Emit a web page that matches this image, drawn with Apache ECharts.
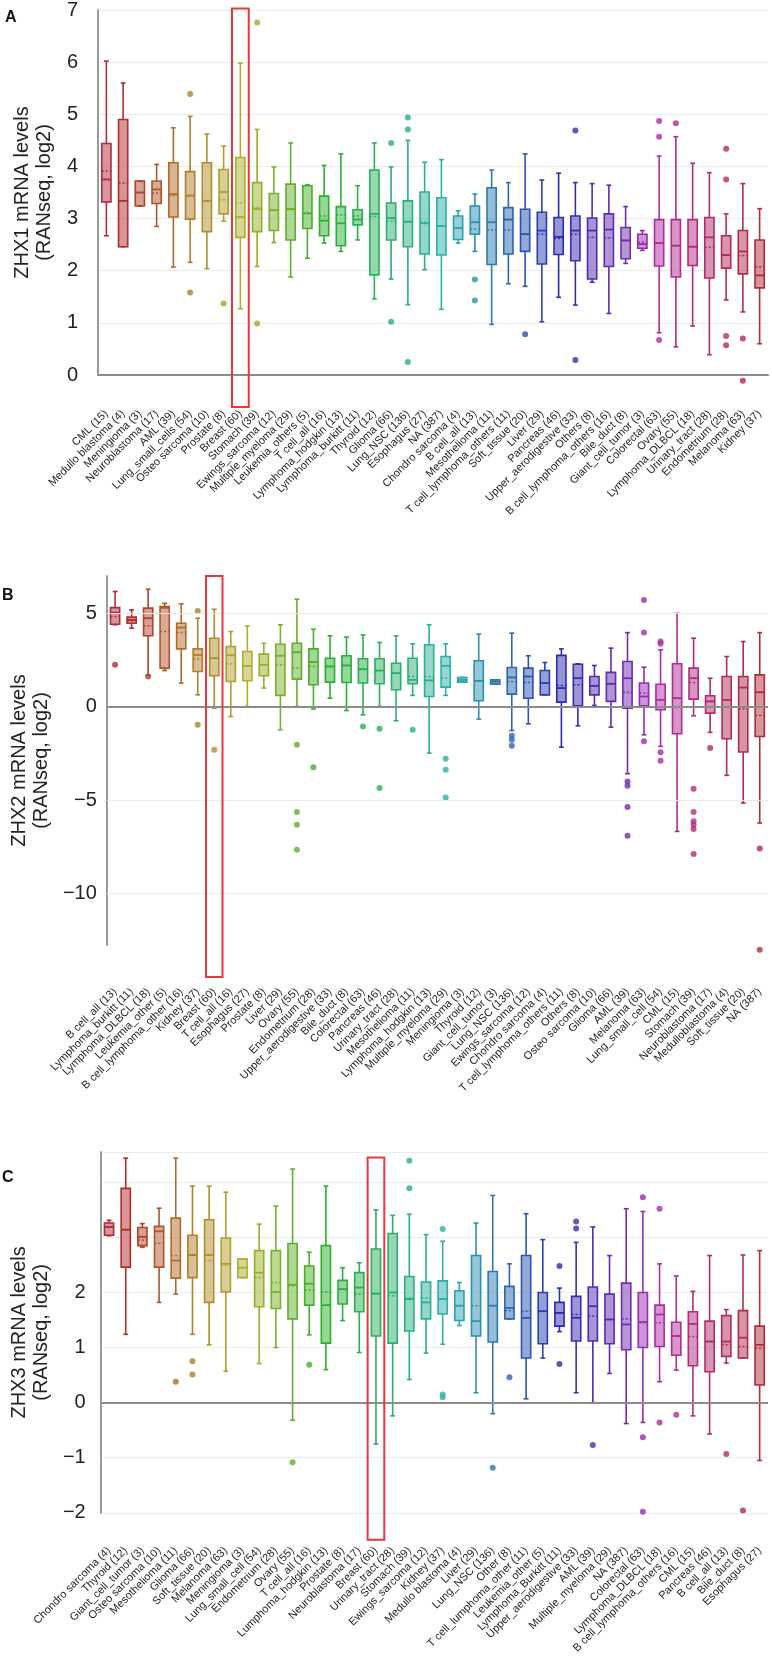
<!DOCTYPE html>
<html lang="en">
<head>
<meta charset="utf-8">
<title>ZHX1 / ZHX2 / ZHX3 mRNA levels</title>
<script src="https://cdn.jsdelivr.net/npm/echarts@6/dist/echarts.min.js"></script>
<style>
  html, body { margin: 0; padding: 0; background: #fff; }
  #main { width: 772px; height: 1656px; }
</style>
</head>
<body>
<div id="main"></div>
<script>
// ---- panel A : ZHX1 ----
var catsA = ['CML (15)', 'Medullo blastoma (4)', 'Meningioma (3)', 'Neuroblastoma (17)', 'AML (39)',
  'Lung_small_cells (54)', 'Osteo sarcoma (10)', 'Prostate (8)', 'Breast (60)', 'Stomach (39)',
  'Ewings_sarcoma (12)', 'Multiple_myeloma (29)', 'Leukemia_others (5)', 'T cell_all (16)',
  'Lymphoma_hodgkin (13)', 'Lymphoma_burkitt (11)', 'Thyroid (12)', 'Glioma (66)', 'Lung_NSC (136)',
  'Esophagus (27)', 'NA (387)', 'Chondro sarcoma (4)', 'B cell_all (13)', 'Mesothelioma (11)',
  'T cell_lymphoma_others (11)', 'Soft_tissue (20)', 'Liver (29)', 'Pancreas (46)',
  'Upper_aerodigestive (33)', 'Others (8)', 'B cell_lymphoma_others (16)', 'Bile_duct (8)',
  'Giant_cell_tumor (3)', 'Colorectal (63)', 'Ovary (55)', 'Lymphoma_DLBCL (18)', 'Urinary_tract (28)',
  'Endometrium (28)', 'Melanoma (63)', 'Kidney (37)'];
// [min, q1, median, q3, max, mean]
var statsA = [
  [2.67, 3.32, 3.75, 4.44, 6.02, 3.91], [2.46, 2.46, 3.34, 4.90, 5.60, 3.68], [3.24, 3.24, 3.50, 3.72, 3.72, 3.50],
  [2.85, 3.29, 3.56, 3.72, 4.04, 3.49], [2.07, 3.03, 3.47, 4.07, 4.74, 3.44], [2.16, 2.99, 3.44, 3.90, 4.96, 3.44],
  [2.04, 2.75, 3.34, 4.07, 4.62, 3.34], [2.95, 3.09, 3.51, 3.94, 4.39, 3.36], [1.27, 2.64, 3.03, 4.17, 5.98, 3.30],
  [2.08, 2.75, 3.18, 3.69, 4.71, 3.21], [2.54, 2.77, 3.16, 3.48, 3.99, 3.16], [1.88, 2.59, 3.18, 3.66, 4.45, 3.18],
  [2.24, 2.81, 3.10, 3.63, 3.65, 3.10], [2.53, 2.67, 2.96, 3.43, 4.02, 3.05], [2.37, 2.48, 2.91, 3.23, 4.24, 3.07],
  [2.59, 2.88, 2.98, 3.17, 3.63, 3.05], [1.46, 1.92, 3.09, 3.93, 4.45, 3.04], [1.84, 2.59, 3.01, 3.30, 3.99, 2.95],
  [1.35, 2.46, 2.94, 3.34, 4.50, 2.94], [2.02, 2.32, 2.91, 3.51, 4.08, 2.93], [1.26, 2.30, 2.86, 3.40, 4.13, 2.86],
  [2.53, 2.60, 2.82, 3.05, 3.15, 2.82], [2.37, 2.70, 2.93, 3.24, 3.47, 2.80], [0.97, 2.12, 2.93, 3.59, 3.93, 2.78],
  [1.75, 2.32, 2.98, 3.21, 3.69, 2.78], [1.70, 2.37, 2.70, 3.18, 4.24, 2.70], [1.02, 2.13, 2.77, 3.12, 3.74, 2.70],
  [1.49, 2.31, 2.65, 3.02, 3.87, 2.62], [1.34, 2.19, 2.77, 3.05, 3.69, 2.70], [1.78, 1.84, 2.77, 3.01, 3.67, 2.64],
  [1.18, 2.08, 2.79, 3.09, 3.64, 2.63], [2.14, 2.23, 2.58, 2.83, 3.23, 2.58], [2.39, 2.43, 2.51, 2.70, 2.77, 2.55],
  [0.81, 2.09, 2.53, 2.98, 4.20, 2.53], [0.54, 1.88, 2.48, 2.98, 4.57, 2.48], [0.94, 2.10, 2.46, 2.98, 4.06, 2.46],
  [0.39, 1.86, 2.64, 3.02, 3.88, 2.45], [1.44, 2.05, 2.30, 2.67, 3.09, 2.30], [1.21, 1.94, 2.37, 2.77, 3.67, 2.29],
  [0.60, 1.67, 1.91, 2.59, 3.19, 2.07]
];
// [category index, value]
var outA = [[5, 5.39], [5, 1.58], [7, 1.37], [9, 6.76], [9, 0.99], [17, 4.45], [17, 1.02], [18, 4.94], [18, 4.71],
  [18, 0.25], [22, 1.83], [22, 1.43], [25, 0.78], [28, 4.69], [28, 0.29], [33, 4.87], [33, 4.57], [33, 0.67],
  [34, 4.83], [37, 4.34], [37, 3.75], [37, 0.75], [37, 0.57], [38, 0.70], [38, -0.11]];

// ---- panel B : ZHX2 ----
var catsB = ['B cell_all (13)', 'Lymphoma_burkitt (11)', 'Lymphoma_DLBCL (18)', 'Leukemia_other (5)',
  'B cell_lymphoma_other (16)', 'Kidney (37)', 'Breast (60)', 'T cell_all (16)', 'Esophagus (27)', 'Prostate (8)',
  'Liver (29)', 'Ovary (55)', 'Endometrium (28)', 'Upper_aerodigestive (33)', 'Bile_duct (8)', 'Colorectal (63)',
  'Pancreas (46)', 'Urinary_tract (28)', 'Mesothelioma (11)', 'Lymphoma_hodgkin (13)', 'Multiple_myeloma (29)',
  'Meningioma (3)', 'Thyroid (12)', 'Giant_cell_tumor (3)', 'Lung_NSC (136)', 'Ewings_sarcoma (12)',
  'Chondro sarcoma (4)', 'T cell_lymphoma_others (11)', 'Others (8)', 'Osteo sarcoma (10)', 'Glioma (66)',
  'AML (39)', 'Melanoma (63)', 'Lung_small_cell (54)', 'CML (15)', 'Stomach (39)', 'Neuroblastoma (17)',
  'Medulloblastoma (4)', 'Soft_tissue (20)', 'NA (387)'];
var statsB = [
  [4.39, 4.42, 5.04, 5.31, 6.17, 4.83], [4.21, 4.47, 4.65, 4.80, 5.19, 4.60], [1.70, 3.80, 4.74, 5.28, 6.29, 4.33],
  [1.94, 2.07, 5.30, 5.37, 5.54, 4.03], [1.27, 3.10, 4.24, 4.47, 5.51, 3.98], [0.64, 1.89, 2.78, 3.10, 4.74, 2.55],
  [-0.07, 1.66, 2.60, 3.67, 5.22, 2.60], [-0.52, 1.35, 2.76, 3.23, 4.03, 2.30], [0.02, 1.39, 2.19, 2.96, 4.33, 2.19],
  [1.00, 1.66, 2.25, 2.82, 3.40, 2.25], [-1.23, 0.61, 2.73, 3.35, 4.39, 2.25], [0.02, 1.48, 2.92, 3.40, 5.76, 2.07],
  [-0.12, 1.18, 2.39, 3.10, 4.15, 2.16], [0.46, 1.32, 2.16, 2.60, 3.80, 2.16], [-0.20, 1.30, 2.21, 2.73, 3.73, 2.21],
  [-0.43, 1.27, 2.01, 2.57, 3.85, 2.01], [0.02, 1.23, 1.94, 2.57, 3.44, 1.94], [-0.75, 0.91, 1.80, 2.33, 3.80, 1.80],
  [0.61, 1.23, 1.44, 2.60, 3.37, 1.62], [-2.48, 0.55, 1.41, 3.32, 4.39, 1.62], [0.61, 1.05, 2.19, 2.69, 3.37, 1.53],
  [1.32, 1.32, 1.44, 1.57, 1.57, 1.44], [-0.66, 0.32, 1.39, 2.46, 3.89, 1.39], [1.21, 1.21, 1.34, 1.44, 1.44, 1.34],
  [-1.27, 0.68, 1.57, 2.10, 3.94, 1.35], [-0.91, 0.46, 1.62, 2.07, 2.73, 1.30], [0.64, 0.64, 1.27, 1.94, 2.37, 1.27],
  [-2.16, 0.25, 1.00, 2.75, 3.10, 1.14], [-1.02, 0.05, 1.53, 2.28, 2.30, 1.18], [0.07, 0.64, 1.12, 1.62, 2.21, 1.12],
  [-1.09, 0.29, 1.23, 1.84, 3.14, 1.23], [-3.58, -0.07, 1.53, 2.42, 3.97, 0.77], [-1.50, 0.05, 0.55, 1.27, 2.12, 0.73],
  [-2.12, -0.16, 0.37, 1.21, 3.05, 0.37], [-6.67, -1.44, 0.46, 2.30, 5.00, 0.46], [-0.48, 0.41, 1.53, 2.07, 3.67, 1.30],
  [-1.37, -0.34, 0.29, 0.59, 1.53, 0.29], [-3.67, -1.71, 0.37, 1.62, 2.69, -0.02], [-5.15, -2.42, 1.03, 1.62, 3.49, -0.11],
  [-6.22, -1.59, 0.78, 1.71, 3.97, -0.46]
];
var outB = [[0, 2.25], [2, 1.62], [5, 5.13], [5, -0.96], [6, -2.30], [11, -2.03], [11, -5.63], [11, -6.31], [11, -7.65],
  [12, -3.23], [15, -1.05], [16, -1.18], [16, -4.35], [18, -1.23], [20, -2.78], [20, -3.37], [20, -4.85], [24, -1.55],
  [24, -1.76], [24, -2.09], [31, -4.00], [31, -4.22], [31, -5.37], [31, -6.90], [32, 5.72], [32, 3.97], [32, -1.85],
  [33, 3.49], [33, 3.37], [33, -2.44], [33, -2.89], [35, -4.39], [35, -5.63], [35, -6.13], [35, -6.31], [35, -6.54],
  [35, -7.88], [36, -2.21], [39, -7.59], [39, -13.0]];
var gridTicksB = [5, -5, -10];

// ---- panel C : ZHX3 ----
var catsC = ['Chondro sarcoma (4)', 'Thyroid (12)', 'Giant_cell_tumor (3)', 'Osteo sarcoma (10)', 'Mesothelioma (11)',
  'Glioma (66)', 'Soft_tissue (20)', 'Melanoma (63)', 'Meningioma (3)', 'Lung_small_cell (54)', 'Endometrium (28)',
  'Ovary (55)', 'T cell_all (16)', 'Lumphoma_hodgkin (13)', 'Prostate (8)', 'Neuroblastoma (17)', 'Breast (60)',
  'Urinary_tract (28)', 'Stomach (39)', 'Ewings_sarcoma (12)', 'Kidney (37)', 'Medullo blastoma (4)', 'Liver (29)',
  'Lung_NSC (136)', 'Other (8)', 'T cell_lumphoma_other (11)', 'Leukemia_other (5)', 'Lymphoma_Burkitt (11)',
  'Upper_aerodigestive (33)', 'AML (39)', 'Multiple_myeloma (29)', 'NA (387)', 'Colorectal (63)',
  'Lymphoma_DLBCL (18)', 'B cell_lymphoma_others (16)', 'CML (15)', 'Pancreas (46)', 'B cell_all (13)',
  'Bile_duct (8)', 'Esophagus (27)'];
var statsC = [
  [3.03, 3.04, 3.19, 3.26, 3.31, 3.19], [1.24, 2.46, 3.14, 3.89, 4.44, 3.14], [2.82, 2.85, 3.01, 3.18, 3.25, 2.95],
  [1.82, 2.46, 3.11, 3.20, 3.53, 2.89], [1.97, 2.26, 2.58, 3.35, 4.44, 2.67], [1.24, 2.27, 2.68, 3.04, 3.93, 2.68],
  [1.05, 1.82, 2.68, 3.32, 3.93, 2.58], [0.57, 2.01, 2.52, 2.99, 3.82, 2.50], [2.27, 2.27, 2.45, 2.61, 2.61, 2.45],
  [0.71, 1.74, 2.36, 2.76, 3.24, 2.27], [1.00, 1.71, 2.01, 2.76, 3.57, 2.18], [-0.32, 1.52, 2.14, 2.89, 4.24, 2.12],
  [1.23, 1.77, 2.16, 2.48, 2.73, 2.04], [0.60, 1.08, 1.77, 2.85, 3.93, 2.01], [1.49, 1.79, 2.06, 2.22, 2.45, 2.06],
  [0.91, 1.65, 2.09, 2.36, 2.54, 1.97], [-0.75, 1.21, 1.98, 2.79, 3.50, 1.98], [-0.24, 1.08, 2.00, 3.07, 3.40, 1.94],
  [0.42, 1.30, 1.88, 2.29, 3.42, 1.90], [0.90, 1.52, 1.82, 2.19, 3.05, 1.90], [1.06, 1.61, 1.88, 2.21, 2.93, 1.88],
  [1.40, 1.49, 1.76, 2.03, 2.18, 1.76], [0.18, 1.21, 1.48, 2.67, 3.26, 1.76], [-0.20, 1.10, 1.76, 2.38, 3.76, 1.76],
  [1.52, 1.52, 1.72, 2.11, 2.52, 1.67], [0.07, 0.81, 1.54, 2.67, 3.43, 1.66], [0.81, 1.07, 1.66, 2.00, 2.96, 1.66],
  [1.29, 1.39, 1.63, 1.82, 2.08, 1.63], [0.18, 1.12, 1.54, 1.93, 2.91, 1.60], [0.00, 1.12, 1.75, 2.10, 3.19, 1.57],
  [0.53, 1.07, 1.51, 1.97, 2.67, 1.51], [-0.38, 0.96, 1.42, 2.17, 3.52, 1.52], [-0.36, 1.00, 1.46, 2.00, 3.47, 1.46],
  [0.38, 1.02, 1.60, 1.77, 2.52, 1.45], [0.59, 0.86, 1.21, 1.46, 2.30, 1.21], [-0.24, 0.67, 1.43, 1.65, 2.02, 1.20],
  [-0.57, 0.56, 1.11, 1.48, 2.67, 1.11], [0.72, 0.84, 1.11, 1.58, 1.69, 1.05], [0.81, 0.81, 1.18, 1.67, 2.68, 1.02],
  [-1.05, 0.32, 1.05, 1.39, 2.76, 0.99]
];
var outC = [[4, 0.38], [5, 0.75], [5, 0.51], [11, -1.08], [12, 0.69], [18, 4.39], [18, 3.89], [20, 3.15], [20, 0.15],
  [20, 0.10], [23, -1.18], [24, 0.46], [27, 2.48], [27, 0.70], [28, 3.29], [28, 3.16], [29, -0.77], [32, 3.73],
  [32, -0.63], [32, -1.98], [33, 3.52], [33, -0.36], [34, -0.22], [37, -0.93], [38, -1.96]];

var highlightName = 'Breast (60)';
var FONT = '"Liberation Sans", Arial, sans-serif';

// rainbow colour by rank, red -> yellow -> green -> blue -> purple -> red
var hueStops = [[0, -8], [5, 38], [8, 60], [13, 120], [18, 158], [20, 176], [24, 213], [27, 240],
  [31, 272], [33, 306], [36, 330], [39, 354]];
function hueAt(i) {
  for (var k = 1; k < hueStops.length; k++) {
    var a = hueStops[k - 1], b = hueStops[k];
    if (i <= b[0]) return (a[1] + (b[1] - a[1]) * (i - a[0]) / (b[0] - a[0]) + 360) % 360;
  }
  return hueStops[hueStops.length - 1][1];
}
function hsla(h, s, l, a) {
  s /= 100; l /= 100;
  var q = s * Math.min(l, 1 - l);
  var f = function (n) {
    var k = (n + h / 30) % 12;
    return Math.round((l - q * Math.max(-1, Math.min(k - 3, 9 - k, 1))) * 255);
  };
  return 'rgba(' + f(0) + ',' + f(8) + ',' + f(4) + ',' + a + ')';
}
function boxColor(i, a) {
  return hsla(hueAt(i), 60, 43, a == null ? 1 : a);
}

function drawBox(params, api) {
  var i = api.value(0);
  var x = api.coord([i, 0])[0];
  var y = function (d) { return api.coord([i, api.value(d)])[1]; };
  var yMin = y(1), yQ1 = y(2), yMed = y(3), yQ3 = y(4), yMax = y(5), yMean = y(6);
  var c = boxColor(i), hw = 4.6, cw = 2.4;
  var ln = { stroke: c, lineWidth: 1.6 };
  return {
    type: 'group',
    children: [
      { type: 'line', shape: { x1: x, y1: yMax, x2: x, y2: yQ3 }, style: ln },
      { type: 'line', shape: { x1: x, y1: yQ1, x2: x, y2: yMin }, style: ln },
      { type: 'line', shape: { x1: x - cw, y1: yMax, x2: x + cw, y2: yMax }, style: ln },
      { type: 'line', shape: { x1: x - cw, y1: yMin, x2: x + cw, y2: yMin }, style: ln },
      { type: 'rect', shape: { x: x - hw, y: yQ3, width: hw * 2, height: Math.max(yQ1 - yQ3, 1) },
        style: { fill: boxColor(i, 0.5), stroke: c, lineWidth: 1.6 } },
      { type: 'line', shape: { x1: x - hw, y1: yMed, x2: x + hw, y2: yMed }, style: { stroke: c, lineWidth: 1.8 } },
      { type: 'line', shape: { x1: x - hw, y1: yMean, x2: x + hw, y2: yMean },
        style: { stroke: c, lineWidth: 1.5, lineDash: [2, 2] } }
    ]
  };
}

function boxSeries(g, stats, marks) {
  return {
    type: 'custom',
    xAxisIndex: g, yAxisIndex: g,
    renderItem: drawBox,
    encode: { x: 0, y: [1, 2, 3, 4, 5, 6] },
    data: stats.map(function (s, i) { return [i].concat(s); }),
    markLine: marks ? {
      silent: true, symbol: 'none', label: { show: false }, animation: false,
      data: marks
    } : undefined
  };
}
function outlierSeries(g, pts) {
  return {
    type: 'scatter',
    xAxisIndex: g, yAxisIndex: g,
    clip: false,
    symbolSize: 6,
    data: pts,
    itemStyle: { color: function (p) { return boxColor(p.value[0]); } }
  };
}

function xAxisFor(g, cats, margin, showLine) {
  return {
    gridIndex: g, type: 'category', data: cats, boundaryGap: true,
    axisLine: { show: showLine, lineStyle: { color: '#8c8c8c', width: 2 } },
    axisTick: { show: false },
    axisLabel: { interval: 0, rotate: 45, fontSize: 11, color: '#222', margin: margin, fontFamily: FONT }
  };
}
function yAxisFor(g, name, opts) {
  var ax = {
    gridIndex: g, type: 'value',
    axisLine: { show: true, lineStyle: { color: '#9a9a9a', width: 2 } },
    axisTick: { show: false },
    splitLine: { show: true, lineStyle: { color: '#ececec', width: 1 } },
    axisLabel: { fontSize: 20, color: '#222', fontFamily: FONT },
    name: name, nameLocation: 'middle', nameGap: 42, nameRotate: 90,
    nameTextStyle: { fontSize: 20, lineHeight: 22, color: '#222', fontFamily: FONT }
  };
  for (var k in opts) {
    if (k === 'axisLabel') Object.assign(ax.axisLabel, opts[k]);
    else ax[k] = opts[k];
  }
  return ax;
}
function minus(v) { return String(v).replace('-', '\u2212'); }

var zeroLine = { yAxis: 0, lineStyle: { color: '#8c8c8c', width: 2, type: 'solid' } };

var option = {
  animation: false,
  textStyle: { fontFamily: FONT },
  grid: [
    { left: 98, right: 4, top: 8, height: 367 },
    { left: 99, right: 4, top: 576, height: 369 },
    { left: 99, right: 4, top: 1152, height: 365 }
  ],
  xAxis: [
    xAxisFor(0, catsA, 37, true),
    xAxisFor(1, catsB, 45, false),
    xAxisFor(2, catsC, 36, false)
  ],
  yAxis: [
    yAxisFor(0, 'ZHX1 mRNA levels\n(RANseq, log2)', { min: 0, max: 7, interval: 1, axisLabel: { margin: 20 } }),
    yAxisFor(1, 'ZHX2 mRNA levels\n(RANseq, log2)', {
      min: -12.75, max: 7, interval: 0.25, splitLine: { show: false },
      axisLabel: { margin: 10, formatter: function (v) { return v % 5 === 0 ? minus(v) : ''; } }
    }),
    yAxisFor(2, 'ZHX3 mRNA levels\n(RANseq, log2)', {
      min: -2, max: 4.55, interval: 1,
      axisLabel: { margin: 15, formatter: function (v) { return v <= 2 ? minus(v) : ''; } }
    })
  ],
  series: [
    boxSeries(0, statsA, null),
    outlierSeries(0, outA),
    boxSeries(1, statsB, gridTicksB.map(function (t) {
      return { yAxis: t, lineStyle: { color: '#ececec', width: 1, type: 'solid' } };
    }).concat([zeroLine])),
    outlierSeries(1, outB),
    boxSeries(2, statsC, [zeroLine]),
    outlierSeries(2, outC)
  ]
};

var chart = echarts.init(document.getElementById('main'), null, { renderer: 'canvas' });
chart.setOption(option);

// red frame round the Breast column, reaching down into the labels
function columnFrame(g, cats, topVal, below) {
  var idx = cats.indexOf(highlightName);
  var a = chart.convertToPixel({ gridIndex: g }, [0, 0]);
  var b = chart.convertToPixel({ gridIndex: g }, [1, 0]);
  var band = b[0] - a[0];
  var top = chart.convertToPixel({ gridIndex: g }, [idx, topVal]);
  var bottom = chart.convertToPixel({ gridIndex: g }, [idx, option.yAxis[g].min]);
  return {
    type: 'rect', z: 100,
    shape: { x: top[0] - band / 2, y: top[1], width: band, height: bottom[1] + below - top[1] },
    style: { fill: 'none', stroke: '#e8383d', lineWidth: 2 }
  };
}
function panelLetter(t, x, y) {
  return { type: 'text', left: x, top: y, style: { text: t, font: 'bold 16px ' + FONT, fill: '#111' } };
}

chart.setOption({
  graphic: [
    panelLetter('A', 5, 10),
    panelLetter('B', 2, 588),
    panelLetter('C', 2, 1170),
    columnFrame(0, catsA, 7.03, 32),
    columnFrame(1, catsB, 7.0, 32),
    columnFrame(2, catsC, 4.45, 27)
  ]
});
</script>
</body>
</html>
